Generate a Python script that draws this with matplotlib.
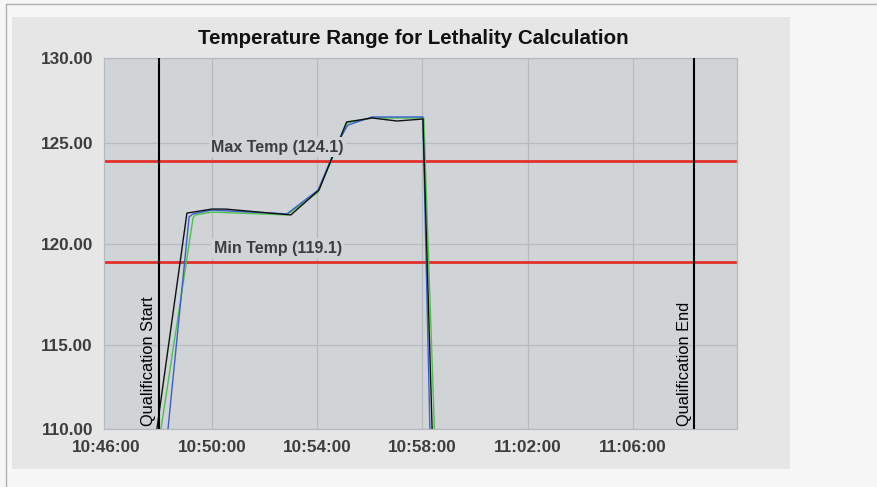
import datetime as dt
import matplotlib
matplotlib.use("Agg")
import matplotlib.pyplot as plt
import matplotlib.dates as mdates
from matplotlib.patches import Rectangle
from matplotlib.lines import Line2D

# === CONFIG ===
OUTPUT_FILE = "out.png"
FIGURE_SIZE = (8.77, 4.87)
DPI = 100
DAY = "2024-01-01 "

PLOT_BG = "#d0d4d6"
PANEL_BG = "#e6e6e6"
TEXT_GREY = "#3d3d3d"

# === DATA ===
black_times = ["10:47:30", "10:49:03", "10:50:00", "10:50:30", "10:53:00", "10:54:04",
               "10:55:07", "10:56:05", "10:57:02", "10:58:01", "10:59:00"]
black_temps = [107.0, 121.53, 121.73, 121.73, 121.44, 122.67,
               126.04, 126.24, 126.09, 126.19, 83.0]

blue_times = ["10:48:00", "10:49:08", "10:49:17", "10:50:00", "10:52:51", "10:54:02",
              "10:54:50", "10:55:10", "10:56:05", "10:58:01", "10:59:00"]
blue_temps = [106.5, 121.34, 121.49, 121.68, 121.49, 122.67,
              125.15, 125.89, 126.29, 126.29, 69.0]

green_times = ["10:47:30", "10:49:17", "10:49:22", "10:50:00", "10:52:51", "10:54:02",
               "10:55:08", "10:56:05", "10:58:03", "10:59:00"]
green_temps = [106.0, 121.29, 121.44, 121.58, 121.44, 122.57,
               126.0, 126.24, 126.24, 90.0]

max_temp = 124.1
min_temp = 119.1
limit_label_time = "10:52:30"
qual_start = "10:48:00"
qual_end = "11:08:20"

x_range = ["10:45:54", "11:09:57"]
x_ticks = ["10:46:00", "10:50:00", "10:54:00", "10:58:00", "11:02:00", "11:06:00"]
y_range = [110.84, 129.21]
y_grid = [115, 120, 125]
y_tick_labels = ["110.00", "115.00", "120.00", "125.00", "130.00"]


def to_dt(t):
    return dt.datetime.strptime(DAY + t, "%Y-%m-%d %H:%M:%S")


def to_dts(ts):
    return [to_dt(t) for t in ts]


plt.rcParams["font.family"] = ["Liberation Sans", "DejaVu Sans"]

fig = plt.figure(figsize=FIGURE_SIZE, dpi=DPI)
fig.patch.set_facecolor("#f7f7f7")

# grey panel behind the chart + thin outer frame lines
fig.add_artist(Rectangle((12 / 877, 1 - 469 / 487), 778 / 877, 452 / 487,
                         transform=fig.transFigure, facecolor=PANEL_BG,
                         edgecolor="none", zorder=0))
fig.add_artist(Line2D([6 / 877, 1], [1 - 4 / 487, 1 - 4 / 487],
                      transform=fig.transFigure, color="#b0b0b0", lw=1))
fig.add_artist(Line2D([6 / 877, 6 / 877], [0, 1 - 4 / 487],
                      transform=fig.transFigure, color="#b0b0b0", lw=1))

ax = fig.add_axes([104 / 877, 1 - 429 / 487, 633 / 877, 371 / 487])
ax.set_facecolor(PLOT_BG)
ax.set_axisbelow(True)

# limit lines
ax.axhline(max_temp, color="#e3302c", lw=2, zorder=2)
ax.axhline(min_temp, color="#e3302c", lw=2, zorder=2)

# probe traces
ax.plot(to_dts(green_times), green_temps, color="#4cc24c", lw=1, zorder=3)
ax.plot(to_dts(blue_times), blue_temps, color="#3a5fcd", lw=1, zorder=3)
ax.plot(to_dts(black_times), black_temps, color="#111111", lw=1, zorder=3)

# qualification window markers
for t, label in [(qual_start, "Qualification Start"), (qual_end, "Qualification End")]:
    ax.axvline(to_dt(t), color="black", lw=1.5, zorder=4)
    ax.annotate(label, xy=(mdates.date2num(to_dt(t)), 0), xycoords=("data", "axes fraction"),
                xytext=(-2, 2), textcoords="offset points", rotation=90,
                ha="right", va="bottom", fontsize=11.8, color="black", zorder=5)

# limit labels with plot-coloured background
for val, label in [(max_temp, f"Max Temp ({max_temp})"), (min_temp, f"Min Temp ({min_temp})")]:
    ax.annotate(label, xy=(mdates.date2num(to_dt(limit_label_time)), val),
                xytext=(0, 10), textcoords="offset points", ha="center", va="center",
                fontsize=11.5, fontweight="bold", color=TEXT_GREY, zorder=6,
                bbox=dict(boxstyle="square,pad=0.15", facecolor=PLOT_BG, edgecolor="none"))

# axes
ax.set_xlim(to_dt(x_range[0]), to_dt(x_range[1]))
ax.set_ylim(y_range[0], y_range[1])
ax.set_xticks(to_dts(x_ticks))
ax.xaxis.set_major_formatter(mdates.DateFormatter("%H:%M:%S"))
ax.set_yticks([y_range[0]] + y_grid + [y_range[1]])
ax.set_yticklabels(y_tick_labels)
ax.tick_params(axis="both", length=0, labelsize=12.3, labelcolor=TEXT_GREY)
ax.tick_params(axis="x", pad=8)
ax.tick_params(axis="y", pad=8)
for lab in ax.get_xticklabels() + ax.get_yticklabels():
    lab.set_fontweight("bold")
ax.grid(True, color="#b7bbbf", lw=0.9)
# the first time gridline sits on the frame in the reference, hide it
ax.xaxis.get_gridlines()[0].set_visible(False)
for sp in ax.spines.values():
    sp.set_color("#b7bbbf")
    sp.set_linewidth(0.9)

fig.text(413 / 877, 1 - 38 / 487, "Temperature Range for Lethality Calculation",
         ha="center", va="center", fontsize=14.8, fontweight="bold", color="#111111")

plt.savefig(OUTPUT_FILE, dpi=DPI, facecolor=fig.get_facecolor())
plt.close()
